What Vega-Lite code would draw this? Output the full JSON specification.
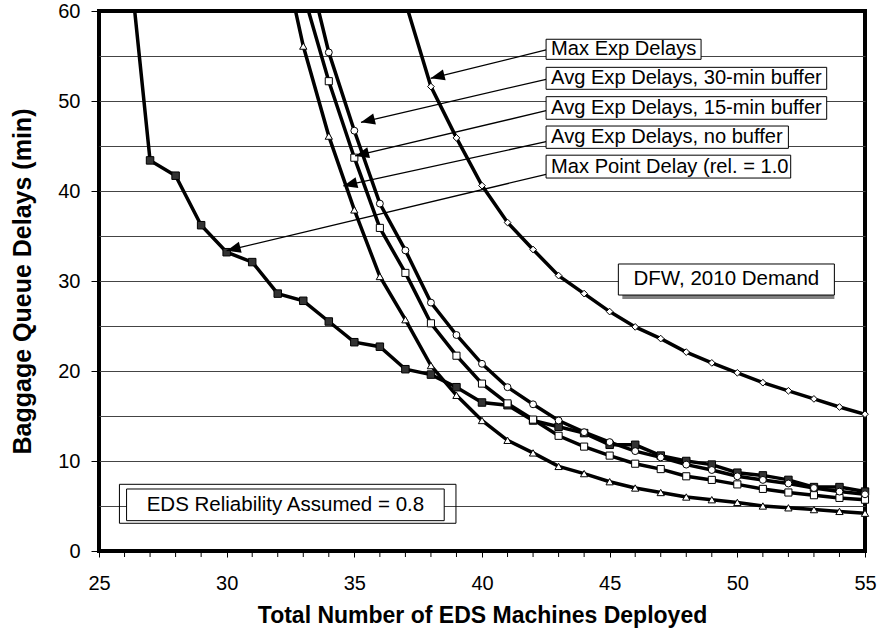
{
  "$schema": "https://vega.github.io/schema/vega-lite/v6.json",
  "width": 766,
  "height": 540,
  "autosize": {"type": "none"},
  "padding": {"left": 99, "top": 11, "right": 15, "bottom": 81},
  "background": "white",
  "config": {
    "view": {"stroke": "black", "strokeWidth": 4},
    "font": "Liberation Sans",
    "axis": {
      "domain": false,
      "labelOverlap": false,
      "labelFont": "Liberation Sans",
      "labelFontSize": 20,
      "labelColor": "black",
      "titleFont": "Liberation Sans",
      "titleFontWeight": "bold",
      "titleColor": "black",
      "tickColor": "black",
      "tickWidth": 1,
      "gridColor": "#444444",
      "gridWidth": 1
    }
  },
  "datasets": {
    "series": [
      {"s": "Max Point Delay", "x": 26, "y": 71},
      {"s": "Max Point Delay", "x": 27, "y": 43.4},
      {"s": "Max Point Delay", "x": 28, "y": 41.7},
      {"s": "Max Point Delay", "x": 29, "y": 36.2},
      {"s": "Max Point Delay", "x": 30, "y": 33.2},
      {"s": "Max Point Delay", "x": 31, "y": 32.1},
      {"s": "Max Point Delay", "x": 32, "y": 28.6},
      {"s": "Max Point Delay", "x": 33, "y": 27.8},
      {"s": "Max Point Delay", "x": 34, "y": 25.5},
      {"s": "Max Point Delay", "x": 35, "y": 23.2},
      {"s": "Max Point Delay", "x": 36, "y": 22.7},
      {"s": "Max Point Delay", "x": 37, "y": 20.2},
      {"s": "Max Point Delay", "x": 38, "y": 19.6},
      {"s": "Max Point Delay", "x": 39, "y": 18.2},
      {"s": "Max Point Delay", "x": 40, "y": 16.5},
      {"s": "Max Point Delay", "x": 41, "y": 16.2},
      {"s": "Max Point Delay", "x": 42, "y": 14.5},
      {"s": "Max Point Delay", "x": 43, "y": 13.8},
      {"s": "Max Point Delay", "x": 44, "y": 13.1},
      {"s": "Max Point Delay", "x": 45, "y": 11.8},
      {"s": "Max Point Delay", "x": 46, "y": 11.8},
      {"s": "Max Point Delay", "x": 47, "y": 10.6},
      {"s": "Max Point Delay", "x": 48, "y": 10.0},
      {"s": "Max Point Delay", "x": 49, "y": 9.6},
      {"s": "Max Point Delay", "x": 50, "y": 8.7},
      {"s": "Max Point Delay", "x": 51, "y": 8.4},
      {"s": "Max Point Delay", "x": 52, "y": 7.9},
      {"s": "Max Point Delay", "x": 53, "y": 7.1},
      {"s": "Max Point Delay", "x": 54, "y": 7.1},
      {"s": "Max Point Delay", "x": 55, "y": 6.6},

      {"s": "Avg Exp Delays, no buffer", "x": 32, "y": 69},
      {"s": "Avg Exp Delays, no buffer", "x": 33, "y": 56.1},
      {"s": "Avg Exp Delays, no buffer", "x": 34, "y": 46.1},
      {"s": "Avg Exp Delays, no buffer", "x": 35, "y": 37.9},
      {"s": "Avg Exp Delays, no buffer", "x": 36, "y": 30.5},
      {"s": "Avg Exp Delays, no buffer", "x": 37, "y": 25.7},
      {"s": "Avg Exp Delays, no buffer", "x": 38, "y": 20.6},
      {"s": "Avg Exp Delays, no buffer", "x": 39, "y": 17.3},
      {"s": "Avg Exp Delays, no buffer", "x": 40, "y": 14.5},
      {"s": "Avg Exp Delays, no buffer", "x": 41, "y": 12.3},
      {"s": "Avg Exp Delays, no buffer", "x": 42, "y": 10.9},
      {"s": "Avg Exp Delays, no buffer", "x": 43, "y": 9.4},
      {"s": "Avg Exp Delays, no buffer", "x": 44, "y": 8.6},
      {"s": "Avg Exp Delays, no buffer", "x": 45, "y": 7.7},
      {"s": "Avg Exp Delays, no buffer", "x": 46, "y": 7.0},
      {"s": "Avg Exp Delays, no buffer", "x": 47, "y": 6.5},
      {"s": "Avg Exp Delays, no buffer", "x": 48, "y": 6.0},
      {"s": "Avg Exp Delays, no buffer", "x": 49, "y": 5.7},
      {"s": "Avg Exp Delays, no buffer", "x": 50, "y": 5.4},
      {"s": "Avg Exp Delays, no buffer", "x": 51, "y": 5.0},
      {"s": "Avg Exp Delays, no buffer", "x": 52, "y": 4.8},
      {"s": "Avg Exp Delays, no buffer", "x": 53, "y": 4.6},
      {"s": "Avg Exp Delays, no buffer", "x": 54, "y": 4.4},
      {"s": "Avg Exp Delays, no buffer", "x": 55, "y": 4.2},

      {"s": "Avg Exp Delays, 15-min buffer", "x": 33, "y": 62.0},
      {"s": "Avg Exp Delays, 15-min buffer", "x": 34, "y": 52.2},
      {"s": "Avg Exp Delays, 15-min buffer", "x": 35, "y": 43.7},
      {"s": "Avg Exp Delays, 15-min buffer", "x": 36, "y": 35.9},
      {"s": "Avg Exp Delays, 15-min buffer", "x": 37, "y": 30.9},
      {"s": "Avg Exp Delays, 15-min buffer", "x": 38, "y": 25.3},
      {"s": "Avg Exp Delays, 15-min buffer", "x": 39, "y": 21.7},
      {"s": "Avg Exp Delays, 15-min buffer", "x": 40, "y": 18.6},
      {"s": "Avg Exp Delays, 15-min buffer", "x": 41, "y": 16.4},
      {"s": "Avg Exp Delays, 15-min buffer", "x": 42, "y": 14.6},
      {"s": "Avg Exp Delays, 15-min buffer", "x": 43, "y": 12.8},
      {"s": "Avg Exp Delays, 15-min buffer", "x": 44, "y": 11.6},
      {"s": "Avg Exp Delays, 15-min buffer", "x": 45, "y": 10.6},
      {"s": "Avg Exp Delays, 15-min buffer", "x": 46, "y": 9.7},
      {"s": "Avg Exp Delays, 15-min buffer", "x": 47, "y": 9.1},
      {"s": "Avg Exp Delays, 15-min buffer", "x": 48, "y": 8.3},
      {"s": "Avg Exp Delays, 15-min buffer", "x": 49, "y": 7.9},
      {"s": "Avg Exp Delays, 15-min buffer", "x": 50, "y": 7.4},
      {"s": "Avg Exp Delays, 15-min buffer", "x": 51, "y": 6.9},
      {"s": "Avg Exp Delays, 15-min buffer", "x": 52, "y": 6.5},
      {"s": "Avg Exp Delays, 15-min buffer", "x": 53, "y": 6.2},
      {"s": "Avg Exp Delays, 15-min buffer", "x": 54, "y": 5.9},
      {"s": "Avg Exp Delays, 15-min buffer", "x": 55, "y": 5.7},

      {"s": "Avg Exp Delays, 30-min buffer", "x": 33, "y": 67},
      {"s": "Avg Exp Delays, 30-min buffer", "x": 34, "y": 55.4},
      {"s": "Avg Exp Delays, 30-min buffer", "x": 35, "y": 46.7},
      {"s": "Avg Exp Delays, 30-min buffer", "x": 36, "y": 38.6},
      {"s": "Avg Exp Delays, 30-min buffer", "x": 37, "y": 33.4},
      {"s": "Avg Exp Delays, 30-min buffer", "x": 38, "y": 27.6},
      {"s": "Avg Exp Delays, 30-min buffer", "x": 39, "y": 24.0},
      {"s": "Avg Exp Delays, 30-min buffer", "x": 40, "y": 20.8},
      {"s": "Avg Exp Delays, 30-min buffer", "x": 41, "y": 18.2},
      {"s": "Avg Exp Delays, 30-min buffer", "x": 42, "y": 16.3},
      {"s": "Avg Exp Delays, 30-min buffer", "x": 43, "y": 14.5},
      {"s": "Avg Exp Delays, 30-min buffer", "x": 44, "y": 13.2},
      {"s": "Avg Exp Delays, 30-min buffer", "x": 45, "y": 12.1},
      {"s": "Avg Exp Delays, 30-min buffer", "x": 46, "y": 11.1},
      {"s": "Avg Exp Delays, 30-min buffer", "x": 47, "y": 10.4},
      {"s": "Avg Exp Delays, 30-min buffer", "x": 48, "y": 9.6},
      {"s": "Avg Exp Delays, 30-min buffer", "x": 49, "y": 9.0},
      {"s": "Avg Exp Delays, 30-min buffer", "x": 50, "y": 8.3},
      {"s": "Avg Exp Delays, 30-min buffer", "x": 51, "y": 7.9},
      {"s": "Avg Exp Delays, 30-min buffer", "x": 52, "y": 7.5},
      {"s": "Avg Exp Delays, 30-min buffer", "x": 53, "y": 7.0},
      {"s": "Avg Exp Delays, 30-min buffer", "x": 54, "y": 6.6},
      {"s": "Avg Exp Delays, 30-min buffer", "x": 55, "y": 6.3},

      {"s": "Max Exp Delays", "x": 37, "y": 61},
      {"s": "Max Exp Delays", "x": 38, "y": 51.6},
      {"s": "Max Exp Delays", "x": 39, "y": 45.9},
      {"s": "Max Exp Delays", "x": 40, "y": 40.6},
      {"s": "Max Exp Delays", "x": 41, "y": 36.5},
      {"s": "Max Exp Delays", "x": 42, "y": 33.5},
      {"s": "Max Exp Delays", "x": 43, "y": 30.6},
      {"s": "Max Exp Delays", "x": 44, "y": 28.6},
      {"s": "Max Exp Delays", "x": 45, "y": 26.6},
      {"s": "Max Exp Delays", "x": 46, "y": 24.9},
      {"s": "Max Exp Delays", "x": 47, "y": 23.6},
      {"s": "Max Exp Delays", "x": 48, "y": 22.1},
      {"s": "Max Exp Delays", "x": 49, "y": 20.9},
      {"s": "Max Exp Delays", "x": 50, "y": 19.8},
      {"s": "Max Exp Delays", "x": 51, "y": 18.7},
      {"s": "Max Exp Delays", "x": 52, "y": 17.8},
      {"s": "Max Exp Delays", "x": 53, "y": 16.9},
      {"s": "Max Exp Delays", "x": 54, "y": 16.0},
      {"s": "Max Exp Delays", "x": 55, "y": 15.2}
    ],
    "xticks": [
      {"x": 26}, {"x": 27}, {"x": 28}, {"x": 29}, {"x": 31}, {"x": 32}, {"x": 33}, {"x": 34},
      {"x": 36}, {"x": 37}, {"x": 38}, {"x": 39}, {"x": 41}, {"x": 42}, {"x": 43}, {"x": 44},
      {"x": 46}, {"x": 47}, {"x": 48}, {"x": 49}, {"x": 51}, {"x": 52}, {"x": 53}, {"x": 54}
    ],
    "arrows": [
      {"x1": 42.51, "y1": 55.67, "x2": 37.99, "y2": 52.52},
      {"x1": 42.51, "y1": 52.41, "x2": 35.26, "y2": 47.63},
      {"x1": 42.51, "y1": 48.92, "x2": 35.03, "y2": 43.89},
      {"x1": 42.51, "y1": 45.48, "x2": 34.57, "y2": 40.56},
      {"x1": 42.51, "y1": 41.85, "x2": 30.0, "y2": 33.37}
    ],
    "arrowboxes": [
      {"label": "Max Exp Delays", "x1": 42.51, "x2": 48.58, "y1": 54.63, "y2": 56.86, "ty": 55.74},
      {"label": "Avg Exp Delays, 30-min buffer", "x1": 42.51, "x2": 53.5, "y1": 51.3, "y2": 53.74, "ty": 52.52},
      {"label": "Avg Exp Delays, 15-min buffer", "x1": 42.51, "x2": 53.5, "y1": 47.97, "y2": 50.48, "ty": 49.22},
      {"label": "Avg Exp Delays, no buffer", "x1": 42.51, "x2": 52.0, "y1": 44.74, "y2": 47.22, "ty": 45.98},
      {"label": "Max Point Delay (rel. = 1.0", "x1": 42.51, "x2": 52.09, "y1": 41.44, "y2": 43.98, "ty": 42.71}
    ],
    "dfw": [
      {"label": "DFW, 2010 Demand", "x1": 45.34, "x2": 53.8, "y1": 28.44, "y2": 31.89, "tx": 49.57, "ty": 30.17}
    ],
    "eds": [
      {"label": "EDS Reliability Assumed = 0.8", "ox1": 25.8, "ox2": 38.98, "oy1": 3.08, "oy2": 7.41, "x1": 26.08, "x2": 38.52, "y1": 3.37, "y2": 6.89, "tx": 32.3, "ty": 5.1}
    ]
  },
  "layer": [
    {
      "data": {"name": "series"},
      "mark": {"type": "line", "color": "black", "strokeWidth": 3.5, "clip": true},
      "encoding": {
        "x": {
          "field": "x", "type": "quantitative",
          "scale": {"domain": [25, 55], "nice": false, "zero": false},
          "axis": {
            "title": "Total Number of EDS Machines Deployed",
            "titleFontSize": 23,
            "values": [25, 30, 35, 40, 45, 50, 55],
            "labelOverlap": false,
            "labelFlush": false,
            "grid": false,
            "tickSize": 6,
            "labelPadding": 16,
            "titlePadding": 11
          }
        },
        "y": {
          "field": "y", "type": "quantitative",
          "scale": {"domain": [0, 60], "nice": false, "zero": true},
          "axis": {
            "title": "Baggage Queue Delays (min)",
            "titleFontSize": 25,
            "values": [0, 5, 10, 15, 20, 25, 30, 35, 40, 45, 50, 55, 60],
            "labelExpr": "datum.value % 10 === 0 ? datum.label : ''",
            "labelOverlap": false,
            "labelFlush": false,
            "grid": true,
            "gridOpacity": {"condition": {"test": "datum.value > 0 && datum.value < 60", "value": 1}, "value": 0},
            "tickOpacity": {"condition": {"test": "datum.value % 10 === 0", "value": 1}, "value": 0},
            "tickSize": 8,
            "labelPadding": 11,
            "titlePadding": 22
          }
        },
        "detail": {"field": "s"}
      }
    },
    {
      "data": {"name": "xticks"},
      "mark": {"type": "tick", "orient": "vertical", "color": "black", "size": 6, "thickness": 1, "yOffset": 3, "clip": false, "opacity": 1},
      "encoding": {
        "x": {"field": "x", "type": "quantitative"},
        "y": {"datum": 0, "type": "quantitative"}
      }
    },
    {
      "data": {"name": "series"},
      "transform": [{"filter": "datum.y <= 60"}],
      "mark": {"type": "point", "filled": true, "stroke": "black", "strokeWidth": 1, "opacity": 1},
      "encoding": {
        "x": {"field": "x", "type": "quantitative"},
        "y": {"field": "y", "type": "quantitative"},
        "shape": {
          "field": "s", "type": "nominal", "legend": null,
          "scale": {
            "domain": ["Max Point Delay", "Avg Exp Delays, no buffer", "Avg Exp Delays, 15-min buffer", "Avg Exp Delays, 30-min buffer", "Max Exp Delays"],
            "range": ["square", "triangle-up", "square", "circle", "diamond"]
          }
        },
        "fill": {
          "field": "s", "type": "nominal", "legend": null,
          "scale": {
            "domain": ["Max Point Delay", "Avg Exp Delays, no buffer", "Avg Exp Delays, 15-min buffer", "Avg Exp Delays, 30-min buffer", "Max Exp Delays"],
            "range": ["#333333", "white", "white", "white", "white"]
          }
        },
        "size": {
          "field": "s", "type": "nominal", "legend": null,
          "scale": {
            "domain": ["Max Point Delay", "Avg Exp Delays, no buffer", "Avg Exp Delays, 15-min buffer", "Avg Exp Delays, 30-min buffer", "Max Exp Delays"],
            "range": [56, 45, 45, 45, 30]
          }
        }
      }
    },
    {
      "data": {"name": "arrows"},
      "mark": {"type": "rule", "color": "black", "strokeWidth": 1.3},
      "encoding": {
        "x": {"field": "x1", "type": "quantitative"},
        "y": {"field": "y1", "type": "quantitative"},
        "x2": {"field": "x2"},
        "y2": {"field": "y2"}
      }
    },
    {
      "data": {"name": "arrows"},
      "mark": {"type": "point", "shape": "M0,0L0.8,2L-0.8,2Z", "angle": 256, "size": 196, "filled": true, "color": "black", "opacity": 1},
      "encoding": {
        "x": {"field": "x2", "type": "quantitative"},
        "y": {"field": "y2", "type": "quantitative"}
      }
    },
    {
      "data": {"name": "arrowboxes"},
      "mark": {"type": "rect", "fill": "white", "stroke": "black", "strokeWidth": 1},
      "encoding": {
        "x": {"field": "x1", "type": "quantitative"},
        "x2": {"field": "x2"},
        "y": {"field": "y1", "type": "quantitative"},
        "y2": {"field": "y2"}
      }
    },
    {
      "data": {"name": "arrowboxes"},
      "mark": {"type": "text", "align": "left", "baseline": "middle", "dx": 5, "fontSize": 20.1, "font": "Liberation Sans", "color": "black"},
      "encoding": {
        "x": {"field": "x1", "type": "quantitative"},
        "y": {"field": "ty", "type": "quantitative"},
        "text": {"field": "label"}
      }
    },
    {
      "data": {"name": "dfw"},
      "mark": {"type": "rect", "fill": "#808080", "xOffset": 4, "yOffset": 4},
      "encoding": {
        "x": {"field": "x1", "type": "quantitative"},
        "x2": {"field": "x2"},
        "y": {"field": "y1", "type": "quantitative"},
        "y2": {"field": "y2"}
      }
    },
    {
      "data": {"name": "dfw"},
      "mark": {"type": "rect", "fill": "white", "stroke": "black", "strokeWidth": 1},
      "encoding": {
        "x": {"field": "x1", "type": "quantitative"},
        "x2": {"field": "x2"},
        "y": {"field": "y1", "type": "quantitative"},
        "y2": {"field": "y2"}
      }
    },
    {
      "data": {"name": "dfw"},
      "mark": {"type": "text", "align": "center", "baseline": "middle", "fontSize": 20.5, "font": "Liberation Sans", "color": "black"},
      "encoding": {
        "x": {"field": "tx", "type": "quantitative"},
        "y": {"field": "ty", "type": "quantitative"},
        "text": {"field": "label"}
      }
    },
    {
      "data": {"name": "eds"},
      "mark": {"type": "rect", "fill": null, "fillOpacity": 0, "stroke": "black", "strokeWidth": 1},
      "encoding": {
        "x": {"field": "ox1", "type": "quantitative"},
        "x2": {"field": "ox2"},
        "y": {"field": "oy1", "type": "quantitative"},
        "y2": {"field": "oy2"}
      }
    },
    {
      "data": {"name": "eds"},
      "mark": {"type": "rect", "fill": "white", "stroke": "black", "strokeWidth": 1},
      "encoding": {
        "x": {"field": "x1", "type": "quantitative"},
        "x2": {"field": "x2"},
        "y": {"field": "y1", "type": "quantitative"},
        "y2": {"field": "y2"}
      }
    },
    {
      "data": {"name": "eds"},
      "mark": {"type": "text", "align": "center", "baseline": "middle", "fontSize": 20.5, "font": "Liberation Sans", "color": "black"},
      "encoding": {
        "x": {"field": "tx", "type": "quantitative"},
        "y": {"field": "ty", "type": "quantitative"},
        "text": {"field": "label"}
      }
    }
  ]
}
